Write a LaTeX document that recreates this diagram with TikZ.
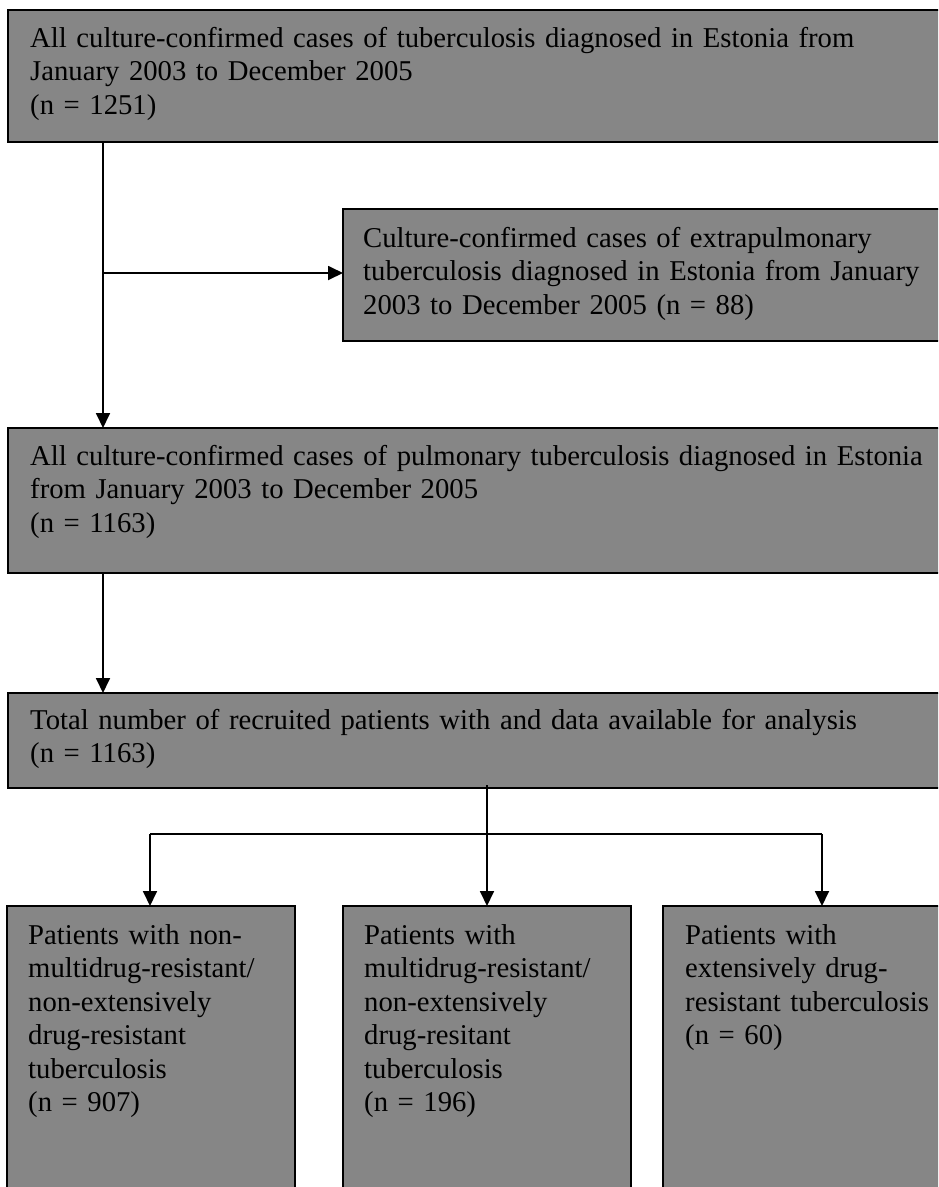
\documentclass[tikz,border=0pt]{standalone}
\usepackage{fontspec}
\setmainfont{Liberation Serif}[Ligatures=NoCommon]
\usetikzlibrary{arrows.meta}
\definecolor{boxgray}{RGB}{134,134,134}
\begin{document}
\begin{tikzpicture}[x=1pt,y=-1pt,
  box/.style={draw=black, line width=1.8pt, fill=boxgray, anchor=north west, inner sep=0pt, outer sep=0pt},
  txt/.style={anchor=base west, inner sep=0pt, align=left, text width=1400pt, font=\fontsize{28.7}{33.5}\selectfont},
  arr/.style={line width=1.8pt, -{Triangle[length=15pt,width=14pt]}},
  ln/.style={line width=1.8pt}]
\useasboundingbox (0,0) rectangle (938,1187);
\clip (0,0) rectangle (938,1187);
\fill[white] (0,0) rectangle (938,1187);
% boxes
\node[box, minimum width=960pt, minimum height=132pt] (b1) at (8,10) {};
\node[box, minimum width=620pt, minimum height=132pt] (b2) at (343,209) {};
\node[box, minimum width=960pt, minimum height=145pt] (b3) at (8,428) {};
\node[box, minimum width=960pt, minimum height=95pt] (b4) at (8,693) {};
\node[box, minimum width=288pt, minimum height=320pt] (b5) at (7,906) {};
\node[box, minimum width=288pt, minimum height=320pt] (b6) at (343,906) {};
\node[box, minimum width=320pt, minimum height=320pt] (b7) at (663,906) {};
% texts
\node[txt] (t1) at (30,47) {All culture-confirmed cases of tuberculosis diagnosed in Estonia from\\January 2003 to December 2005\\(n = 1251)};
\node[txt] (t2) at (363,247) {Culture-confirmed cases of extrapulmonary\\tuberculosis diagnosed in Estonia from January\\2003 to December 2005 (n = 88)};
\node[txt] (t3) at (30,465) {All culture-confirmed cases of pulmonary tuberculosis diagnosed in Estonia\\from January 2003 to December 2005\\(n = 1163)};
\node[txt] (t4) at (30,729) {Total number of recruited patients with and data available for analysis\\(n = 1163)};
\node[txt] (t5) at (28,944) {Patients with non-\\multidrug-resistant/\\non-extensively\\drug-resistant\\tuberculosis\\(n = 907)};
\node[txt] (t6) at (364,944) {Patients with\\multidrug-resistant/\\non-extensively\\drug-resitant\\tuberculosis\\(n = 196)};
\node[txt] (t7) at (685,944) {Patients with\\extensively drug-\\resistant tuberculosis\\(n = 60)};
% connectors
\coordinate (j1) at (103,273);
\draw[arr] (j1 |- b1.south) -- (j1 |- b3.north);
\draw[arr] (j1) -- (j1 -| b2.west);
\draw[arr] (j1 |- b3.south) -- (j1 |- b4.north);
\coordinate (j2) at (487,834);
\coordinate (jl) at (150,834);
\coordinate (jr) at (822,834);
\draw[ln] ([yshift=3pt]j2 |- b4.south) -- (j2);
\draw[ln] (jl) -- (jr);
\draw[arr] (jl) -- (jl |- b5.north);
\draw[arr] (j2) -- (j2 |- b6.north);
\draw[arr] (jr) -- (jr |- b7.north);
\end{tikzpicture}
\end{document}
